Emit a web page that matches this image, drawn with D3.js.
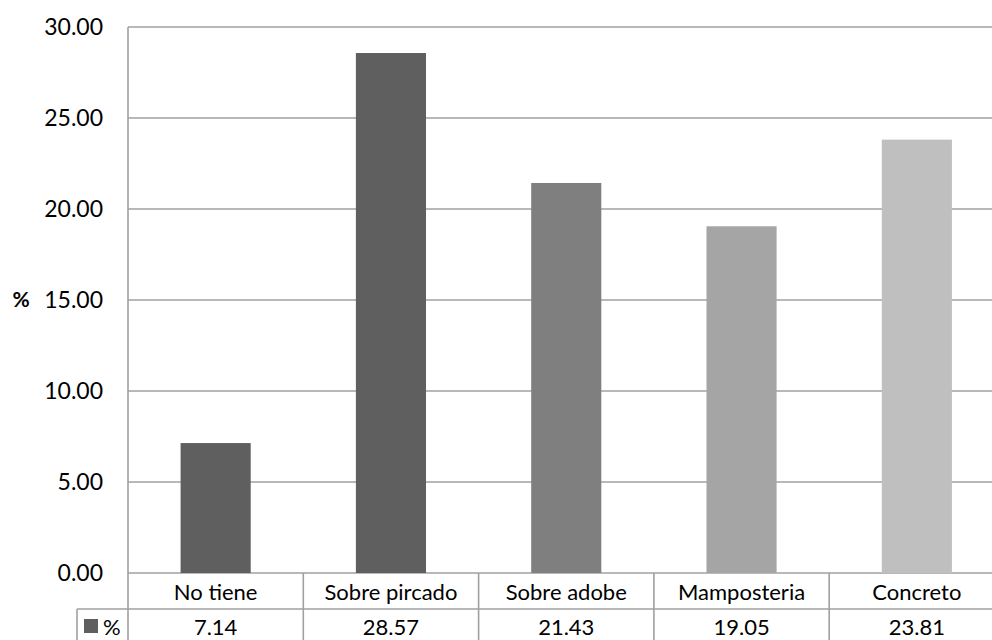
<!DOCTYPE html>
<html>
<head>
<meta charset="utf-8">
<script src="https://cdn.jsdelivr.net/npm/d3@7/dist/d3.min.js"></script>
<style>
  html, body { margin: 0; padding: 0; background: #fff; }
  svg { display: block; }
  text { font-family: Lato, "Liberation Sans", sans-serif; fill: #000; }
</style>
</head>
<body>
<svg id="chart" width="992" height="640"></svg>
<script>
// Data
const categories = ["No tiene", "Sobre pircado", "Sobre adobe", "Mamposteria", "Concreto"];
const values = [7.14, 28.57, 21.43, 19.05, 23.81];
const barColors = ["#5f5f5f", "#5f5f5f", "#7f7f7f", "#a5a5a5", "#bfbfbf"];
const yTicks = [0, 5, 10, 15, 20, 25, 30];
const seriesName = "%";
const yTitle = "%";

const svg = d3.select("#chart");
const gridColor = "#a0a0a0";

const plotLeft = 128, plotRight = 1004.5, plotTop = 27, plotBottom = 573;
const rowH = 36;

const x = d3.scaleBand().domain(categories).range([plotLeft, plotRight]).paddingInner(0).paddingOuter(0);
const y = d3.scaleLinear().domain([0, 30]).range([plotBottom, plotTop]);
const barW = x.bandwidth() * 0.4;

// Horizontal gridlines
svg.append("g").selectAll("line").data(yTicks).join("line")
  .attr("x1", plotLeft).attr("x2", plotRight)
  .attr("y1", d => y(d)).attr("y2", d => y(d))
  .attr("stroke", gridColor).attr("stroke-width", 1.6);

// Y tick labels
svg.append("g").selectAll("text").data(yTicks).join("text")
  .attr("x", 103).attr("y", d => y(d))
  .attr("dy", "0.35em")
  .attr("text-anchor", "end")
  .attr("font-size", 23)
  .text(d => d3.format(".2f")(d));

// Axis title
svg.append("text")
  .attr("x", 21).attr("y", y(15)).attr("dy", "0.35em")
  .attr("text-anchor", "middle")
  .attr("font-size", 21).attr("font-weight", "bold")
  .text(yTitle);

// Bars
svg.append("g").selectAll("rect").data(values).join("rect")
  .attr("x", (d, i) => x(categories[i]) + (x.bandwidth() - barW) / 2)
  .attr("width", barW)
  .attr("y", d => y(d))
  .attr("height", d => y(0) - y(d))
  .attr("fill", (d, i) => barColors[i]);

// Data table
const tbl = svg.append("g");
// vertical axis line extending down through the table
tbl.append("line").attr("x1", plotLeft).attr("x2", plotLeft)
  .attr("y1", plotTop).attr("y2", plotBottom + rowH * 2 + 10)
  .attr("stroke", gridColor).attr("stroke-width", 1.6);
// category separators
tbl.selectAll("line.sep").data(categories.slice(1)).join("line")
  .attr("class", "sep")
  .attr("x1", d => x(d)).attr("x2", d => x(d))
  .attr("y1", plotBottom).attr("y2", plotBottom + rowH * 2 + 10)
  .attr("stroke", gridColor).attr("stroke-width", 1.6);
// row line between header and values (includes legend cell)
tbl.append("line").attr("x1", 77).attr("x2", plotRight)
  .attr("y1", plotBottom + rowH).attr("y2", plotBottom + rowH)
  .attr("stroke", gridColor).attr("stroke-width", 1.6);
// legend cell left border
tbl.append("line").attr("x1", 77).attr("x2", 77)
  .attr("y1", plotBottom + rowH).attr("y2", plotBottom + rowH * 2 + 10)
  .attr("stroke", gridColor).attr("stroke-width", 1.6);

// category labels
tbl.selectAll("text.cat").data(categories).join("text")
  .attr("class", "cat")
  .attr("x", d => x(d) + x.bandwidth() / 2)
  .attr("y", plotBottom + rowH / 2 + 1).attr("dy", "0.35em")
  .attr("text-anchor", "middle").attr("font-size", 22)
  .text(d => d);

// values
tbl.selectAll("text.val").data(values).join("text")
  .attr("class", "val")
  .attr("x", (d, i) => x(categories[i]) + x.bandwidth() / 2)
  .attr("y", plotBottom + rowH * 1.5).attr("dy", "0.35em")
  .attr("text-anchor", "middle").attr("font-size", 22)
  .text(d => d3.format(".2f")(d));

// legend key
tbl.append("rect").attr("x", 84).attr("y", plotBottom + rowH + 10)
  .attr("width", 14).attr("height", 14).attr("fill", barColors[0]);
tbl.append("text").attr("x", 103).attr("y", plotBottom + rowH * 1.5).attr("dy", "0.35em")
  .attr("font-size", 22).text(seriesName);
</script>
</body>
</html>
